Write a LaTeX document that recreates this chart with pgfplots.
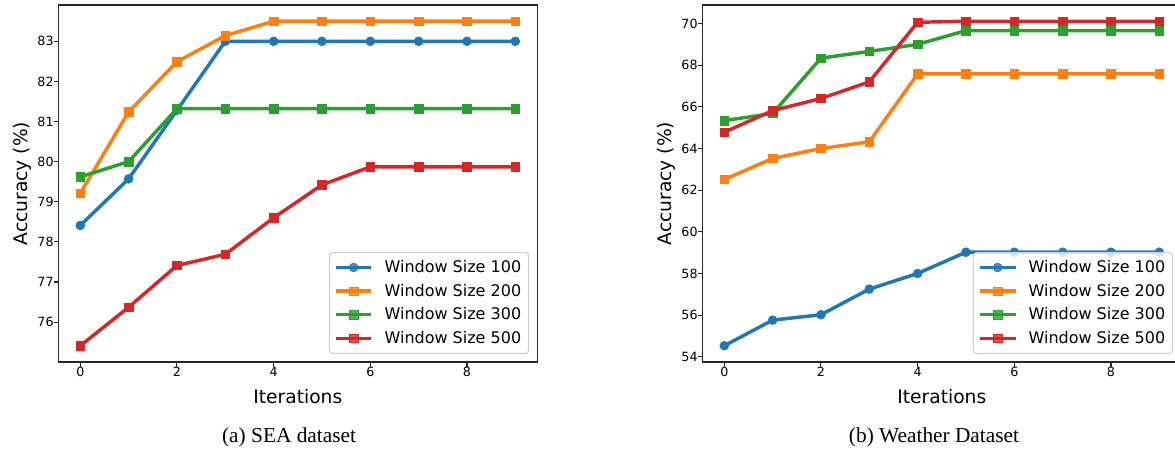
\documentclass[border=0pt]{standalone}
\usepackage{fontspec}
\setmainfont{DejaVu Sans}
\newfontfamily\capfont{Liberation Serif}
\usepackage{pgfplots}
\pgfplotsset{compat=1.18}
\definecolor{tabblue}{HTML}{1F77B4}
\definecolor{taborange}{HTML}{FF7F0E}
\definecolor{tabgreen}{HTML}{2CA02C}
\definecolor{tabred}{HTML}{D62728}
\pgfplotsset{
  mystyle/.style={
    scale only axis, width=358.9pt, height=267.75pt,
    xmin=-0.45, xmax=9.45,
    xtick={0,2,4,6,8},
    tick align=outside, major tick length=3.5pt, tick pos=left,
    axis line style={black!85, line width=0.8pt},
    every tick/.style={black!85, line width=0.8pt},
    /pgf/number format/assume math mode=true,
    ticklabel style={font=\fontsize{9.5}{11}\selectfont},
    xticklabel style={anchor=north, inner sep=0pt},
    yticklabel style={anchor=east, inner sep=0pt},
    label style={font=\fontsize{14}{16}\selectfont},
    xlabel={Iterations}, ylabel={Accuracy (\%)},
    xlabel style={at={(axis description cs:0.5,-0.1176)}, anchor=base},
    ylabel style={at={(axis description cs:-0.0658,0.5)}, anchor=base},
    legend style={at={(0.9833,0.0224)}, anchor=south east,
      draw=black!20, line width=0.8pt, rounded corners=2.5pt,
      fill=white, fill opacity=0.8, text opacity=1, draw opacity=1,
      font=\fontsize{12}{14}\selectfont,
      inner xsep=3.5pt, inner ysep=4pt, row sep=3.1pt, column sep=6.5pt,
      cells={anchor=west, inner sep=0pt}},
    legend image code/.code={\draw[mark repeat=2,mark phase=2] plot coordinates {(0pt,0pt) (13.4pt,0pt) (26.8pt,0pt)};},
    every axis plot/.append style={line width=2.6pt},
  },
  pblue/.style={color=tabblue, mark=*, mark size=3.3pt, mark options={line width=0.5pt}},
  porange/.style={color=taborange, mark=square*, mark size=3.2pt, mark options={line width=0.5pt}},
  pgreen/.style={color=tabgreen, mark=square*, mark size=3.2pt, mark options={line width=0.5pt}},
  pred/.style={color=tabred, mark=square*, mark size=3.2pt, mark options={line width=0.5pt}},
}
\begin{document}
\begin{tikzpicture}
\path[use as bounding box] (0pt,0pt) rectangle (881.25pt,339pt);
\begin{axis}[mystyle, at={(43.9pt,67.5pt)}, anchor=south west,
  ymin=75.0055, ymax=83.9045, ytick={76,77,78,79,80,81,82,83}]
\addplot[pblue] coordinates {(0,78.41) (1,79.57) (2,81.28) (3,83.0) (4,83.0) (5,83.0) (6,83.0) (7,83.0) (8,83.0) (9,83.0)};
\addlegendentry{Window Size 100}
\addplot[porange] coordinates {(0,79.21) (1,81.24) (2,82.49) (3,83.14) (4,83.5) (5,83.5) (6,83.5) (7,83.5) (8,83.5) (9,83.5)};
\addlegendentry{Window Size 200}
\addplot[pgreen] coordinates {(0,79.62) (1,80.0) (2,81.32) (3,81.32) (4,81.32) (5,81.32) (6,81.32) (7,81.32) (8,81.32) (9,81.32)};
\addlegendentry{Window Size 300}
\addplot[pred] coordinates {(0,75.41) (1,76.37) (2,77.41) (3,77.69) (4,78.6) (5,79.42) (6,79.87) (7,79.87) (8,79.87) (9,79.87)};
\addlegendentry{Window Size 500}
\end{axis}
\begin{axis}[mystyle, at={(526.9pt,67.5pt)}, anchor=south west,
  ymin=53.75, ymax=70.89, ytick={54,56,58,60,62,64,66,68,70}]
\addplot[pblue] coordinates {(0,54.53) (1,55.76) (2,56.02) (3,57.25) (4,58.0) (5,59.02) (6,59.02) (7,59.02) (8,59.02) (9,59.02)};
\addlegendentry{Window Size 100}
\addplot[porange] coordinates {(0,62.51) (1,63.52) (2,64.0) (3,64.32) (4,67.58) (5,67.58) (6,67.58) (7,67.58) (8,67.58) (9,67.58)};
\addlegendentry{Window Size 200}
\addplot[pgreen] coordinates {(0,65.34) (1,65.68) (2,68.34) (3,68.66) (4,69.0) (5,69.66) (6,69.66) (7,69.66) (8,69.66) (9,69.66)};
\addlegendentry{Window Size 300}
\addplot[pred] coordinates {(0,64.78) (1,65.82) (2,66.4) (3,67.2) (4,70.06) (5,70.11) (6,70.11) (7,70.11) (8,70.11) (9,70.11)};
\addlegendentry{Window Size 500}
\end{axis}
\node[font=\capfont\fontsize{16}{18}\selectfont, anchor=base] at (216.8pt,6.75pt) {(a)\ SEA dataset};
\node[font=\capfont\fontsize{16}{18}\selectfont, anchor=base] at (700.5pt,6.75pt) {(b)\ Weather Dataset};
\end{tikzpicture}
\end{document}
